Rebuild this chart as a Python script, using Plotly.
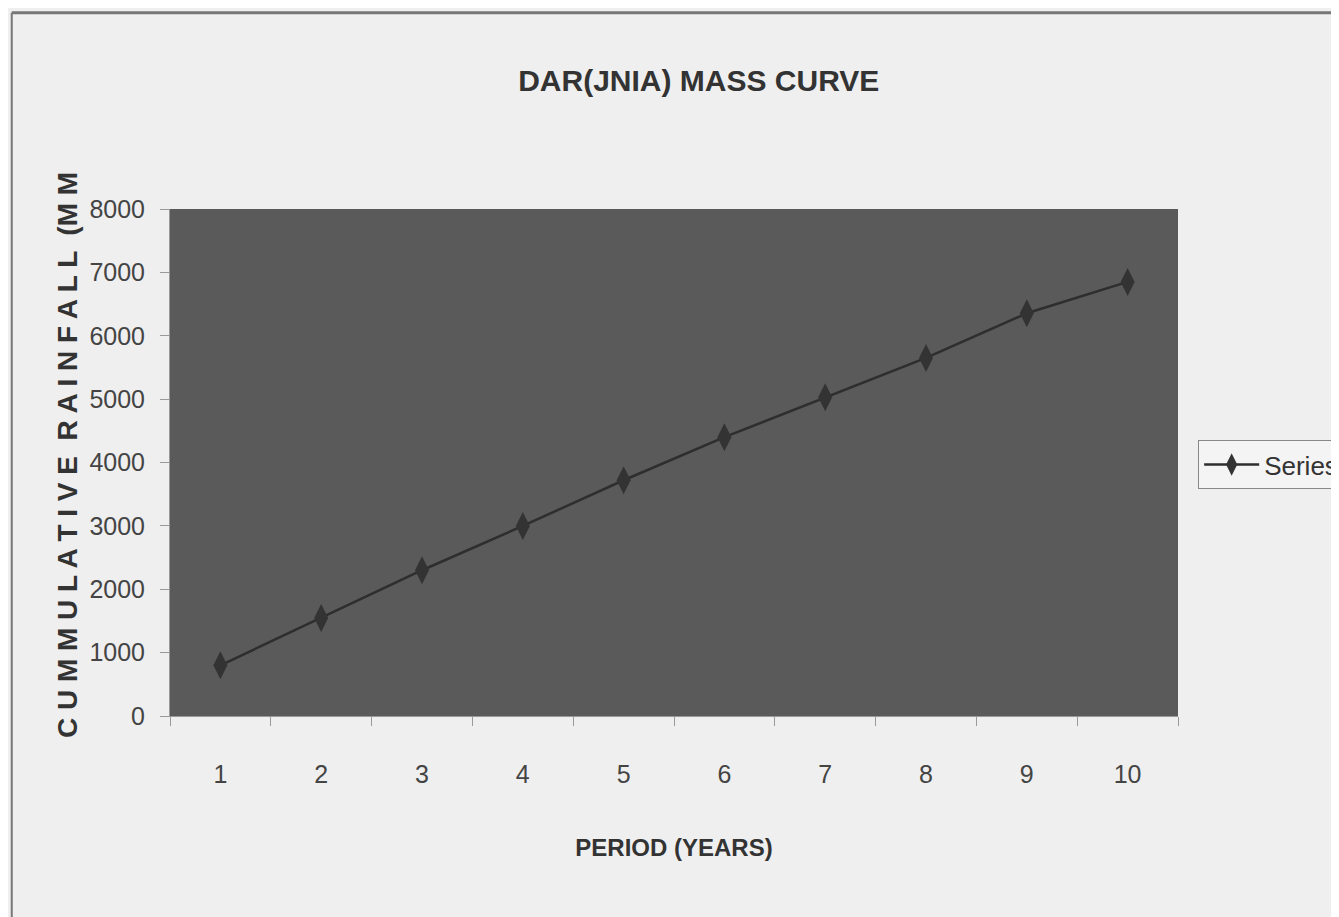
import plotly.graph_objects as go

periods = ["1", "2", "3", "4", "5", "6", "7", "8", "9", "10"]
cumulative_rainfall = [800, 1545, 2300, 3000, 3720, 4400, 5030, 5650, 6355, 6850]
series_name = "Series1"
y_ticks = [0, 1000, 2000, 3000, 4000, 5000, 6000, 7000, 8000]

FONT = "Liberation Sans Narrow, Arial Narrow, Liberation Sans, Arial, sans-serif"

fig = go.Figure()
fig.add_trace(go.Scatter(
    x=periods, y=cumulative_rainfall, name=series_name, mode="lines+markers",
    line=dict(color="#2e2e2e", width=2.5),
    marker=dict(symbol="diamond-tall", size=20, color="#333333"),
))

fig.update_layout(
    width=1331, height=909,
    paper_bgcolor="#efefef", plot_bgcolor="#5a5a5a",
    margin=dict(l=162, r=161, t=201, b=201, autoexpand=False),
    title=dict(text="<b>DAR(JNIA) MASS CURVE</b>", x=0.519, xanchor="center",
               y=0.92, yanchor="middle",
               font=dict(family=FONT, size=30, color="#333333")),
    showlegend=True,
    legend=dict(x=1.02, xanchor="left", y=0.496, yanchor="middle",
                bgcolor="#f4f4f4", bordercolor="#888888", borderwidth=1,
                itemwidth=55,
                font=dict(family=FONT, size=26, color="#333333")),
    font=dict(family=FONT, color="#333333"),
)

fig.update_xaxes(
    type="category", range=[-0.5, 9.5], tickson="boundaries", ticks="outside",
    ticklen=9, tickcolor="#999999", showline=True, linecolor="#999999",
    showgrid=False,
    tickfont=dict(family=FONT, size=25, color="#444444"), ticklabelstandoff=36,
    title=dict(text="<b>PERIOD (YEARS)</b>", standoff=52,
               font=dict(family=FONT, size=24, color="#333333")),
)
fig.update_yaxes(
    range=[0, 8000], tickvals=y_ticks, ticks="outside", ticklen=9,
    tickcolor="#999999", showline=True, linecolor="#999999", showgrid=False,
    zeroline=False, tickfont=dict(family=FONT, size=25, color="#444444"),
    ticklabelstandoff=10,
)

fig.add_annotation(
    text="<b>C U M M U L A T I V E  R A I N F A L L  (M M</b>",
    xref="paper", yref="paper", x=-0.101, y=0.515, textangle=-90,
    showarrow=False, xanchor="center", yanchor="middle",
    font=dict(family=FONT, size=28, color="#333333"),
)

# frame around chart area
fig.add_shape(type="line", xref="paper", yref="paper",
              x0=-0.157, x1=1.2, y0=1.387, y1=1.387,
              line=dict(color="#777777", width=3))
fig.add_shape(type="line", xref="paper", yref="paper",
              x0=-0.157, x1=-0.157, y0=1.387, y1=-0.5,
              line=dict(color="#777777", width=2))

fig.write_html("out.html")
